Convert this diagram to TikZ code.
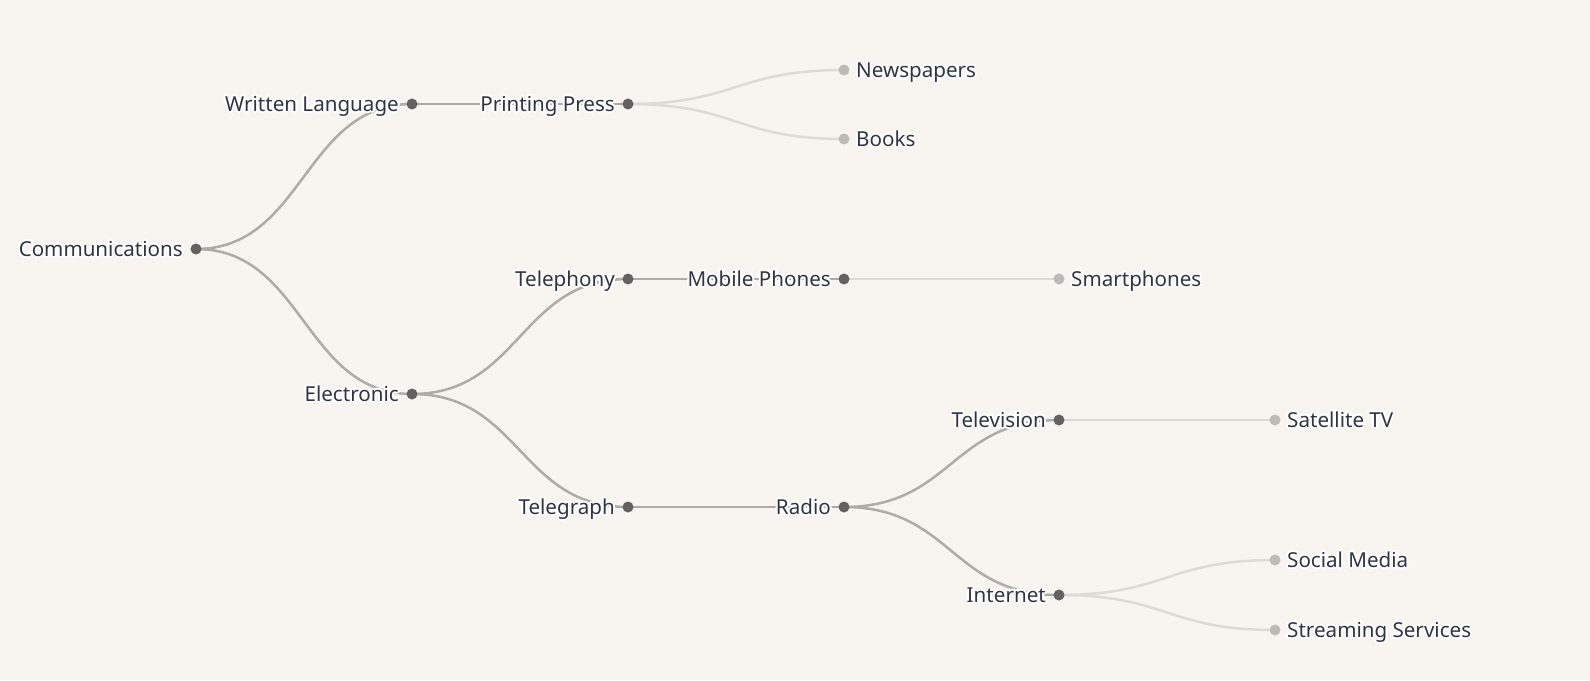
\documentclass[tikz,border=0pt]{standalone}
\usepackage{fontspec}
\setmainfont{Noto Sans}
\usetikzlibrary{calc}
\definecolor{bg}{HTML}{F8F5F0}
\definecolor{txt}{HTML}{2F3545}
\definecolor{idotc}{HTML}{646260}
\definecolor{ldotc}{HTML}{BDBBB8}
\definecolor{ilinkc}{HTML}{B0ABA6}
\definecolor{llinkc}{HTML}{DEDAD5}
\newcommand\halo[1]{%
  \foreach \ang in {0,30,...,330}{%
    \pgfmathsetlengthmacro\hx{2pt*cos(\ang)}%
    \pgfmathsetlengthmacro\hy{2pt*sin(\ang)}%
    \rlap{\kern\hx\raisebox{\hy}{\textcolor{white}{#1}}}%
  }%
  #1}
\tikzset{
  hlink/.style={line width=2.5pt, to path={let \p1=(\tikztostart), \p2=(\tikztotarget) in
      (\p1) .. controls ({(\x1+\x2)/2},\y1) and ({(\x1+\x2)/2},\y2) .. (\p2)}},
  ilink/.style={hlink, draw=ilinkc},
  llink/.style={hlink, draw=llinkc},
  idot/.style={circle, fill=idotc, minimum size=11pt, inner sep=0pt},
  ldot/.style={circle, fill=ldotc, minimum size=11pt, inner sep=0pt},
  lab/.style={inner sep=0pt, text=txt, font=\fontsize{20.6}{24}\selectfont},
  ilab/.style={lab, anchor=base east, xshift=-13pt, yshift=-7pt},
  llab/.style={lab, anchor=base west, xshift=12pt, yshift=-7pt},
}
\begin{document}
\begin{tikzpicture}
\fill[bg] (0pt,0pt) rectangle (1590pt,-680pt);
\useasboundingbox (0pt,0pt) rectangle (1590pt,-680pt);
% positions
\coordinate (comm) at (196pt,-249pt);
\coordinate (wl) at (412pt,-104pt);
\coordinate (pp) at (628pt,-104pt);
\coordinate (news) at (844pt,-70pt);
\coordinate (books) at (844pt,-139pt);
\coordinate (elec) at (412pt,-394pt);
\coordinate (tph) at (628pt,-279pt);
\coordinate (mob) at (844pt,-279pt);
\coordinate (smart) at (1059pt,-279pt);
\coordinate (tgr) at (628pt,-507pt);
\coordinate (radio) at (844pt,-507pt);
\coordinate (tv) at (1059pt,-420pt);
\coordinate (sat) at (1275pt,-420pt);
\coordinate (inet) at (1059pt,-595pt);
\coordinate (soc) at (1275pt,-560pt);
\coordinate (stream) at (1275pt,-630pt);
% links
\draw[ilink] (comm) to (wl);
\draw[ilink] (comm) to (elec);
\draw[ilink] (wl) to (pp);
\draw[llink] (pp) to (news);
\draw[llink] (pp) to (books);
\draw[ilink] (elec) to (tph);
\draw[ilink] (elec) to (tgr);
\draw[ilink] (tph) to (mob);
\draw[llink] (mob) to (smart);
\draw[ilink] (tgr) to (radio);
\draw[ilink] (radio) to (tv);
\draw[ilink] (radio) to (inet);
\draw[llink] (tv) to (sat);
\draw[llink] (inet) to (soc);
\draw[llink] (inet) to (stream);
% dots
\node[idot] (comm-d) at (comm) {};
\node[idot] (wl-d) at (wl) {};
\node[idot] (pp-d) at (pp) {};
\node[ldot] (news-d) at (news) {};
\node[ldot] (books-d) at (books) {};
\node[idot] (elec-d) at (elec) {};
\node[idot] (tph-d) at (tph) {};
\node[idot] (mob-d) at (mob) {};
\node[ldot] (smart-d) at (smart) {};
\node[idot] (tgr-d) at (tgr) {};
\node[idot] (radio-d) at (radio) {};
\node[idot] (tv-d) at (tv) {};
\node[ldot] (sat-d) at (sat) {};
\node[idot] (inet-d) at (inet) {};
\node[ldot] (soc-d) at (soc) {};
\node[ldot] (stream-d) at (stream) {};
% labels
\node[ilab] (comm-t) at (comm) {\halo{Communications}};
\node[ilab] (wl-t) at (wl) {\halo{Written Language}};
\node[ilab] (pp-t) at (pp) {\halo{Printing Press}};
\node[llab] (news-t) at (news) {\halo{Newspapers}};
\node[llab] (books-t) at (books) {\halo{Books}};
\node[ilab] (elec-t) at (elec) {\halo{Electronic}};
\node[ilab] (tph-t) at (tph) {\halo{Telephony}};
\node[ilab] (mob-t) at (mob) {\halo{Mobile Phones}};
\node[llab] (smart-t) at (smart) {\halo{Smartphones}};
\node[ilab] (tgr-t) at (tgr) {\halo{Telegraph}};
\node[ilab] (radio-t) at (radio) {\halo{Radio}};
\node[ilab] (tv-t) at (tv) {\halo{Television}};
\node[llab] (sat-t) at (sat) {\halo{Satellite TV}};
\node[ilab] (inet-t) at (inet) {\halo{Internet}};
\node[llab] (soc-t) at (soc) {\halo{Social Media}};
\node[llab] (stream-t) at (stream) {\halo{Streaming Services}};
\end{tikzpicture}
\end{document}
